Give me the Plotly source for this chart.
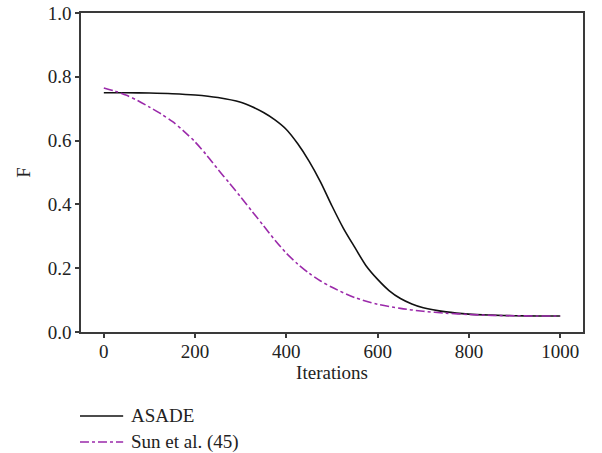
import plotly.graph_objects as go

asade_x = [0, 50, 100, 150, 200, 250, 300, 325, 350, 375, 400, 425, 450, 475, 500, 525, 550, 575, 600,
           625, 650, 675, 700, 750, 800, 850, 900, 950, 1000]
asade_y = [0.750, 0.750, 0.749, 0.747, 0.743, 0.735, 0.720, 0.706, 0.688, 0.665, 0.635, 0.590, 0.535, 0.470,
           0.395, 0.325, 0.265, 0.207, 0.165, 0.130, 0.105, 0.088, 0.076, 0.063, 0.056, 0.053, 0.051, 0.050, 0.050]

sun_x = [0, 25, 50, 75, 100, 125, 150, 175, 200, 225, 250, 275, 300, 325, 350, 375, 400, 425, 450, 475,
         500, 550, 600, 650, 700, 750, 800, 850, 900, 950, 1000]
sun_y = [0.765, 0.755, 0.742, 0.725, 0.705, 0.684, 0.660, 0.630, 0.596, 0.555, 0.510, 0.467, 0.423, 0.378,
         0.333, 0.288, 0.247, 0.213, 0.184, 0.160, 0.140, 0.108, 0.087, 0.074, 0.065, 0.059, 0.055, 0.052,
         0.051, 0.050, 0.050]

series_names = ["ASADE", "Sun et al. (45)"]
series_colors = ["#111111", "#9b2aaa"]
series_dash = ["solid", "dashdot"]

x_ticks = [0, 200, 400, 600, 800, 1000]
y_ticks = [0.0, 0.2, 0.4, 0.6, 0.8, 1.0]

font_family = "Liberation Serif, DejaVu Serif, serif"
fsize = 19

fig = go.Figure()
for xs, ys, name, color, dash in zip([asade_x, sun_x], [asade_y, sun_y], series_names, series_colors, series_dash):
    fig.add_trace(go.Scatter(x=xs, y=ys, mode="lines", name=name, showlegend=False,
                             line=dict(color=color, width=1.6, dash=dash, shape="spline", smoothing=0.8)))

axis_common = dict(
    showline=True, linecolor="#3a3a3a", linewidth=1.5, mirror=True,
    ticks="outside", ticklen=4, tickcolor="#3a3a3a", tickwidth=1.5,
    showgrid=False, zeroline=False, automargin=False,
    tickfont=dict(family=font_family, size=fsize, color="#222222"),
)

# manual legend below the plot (paper coordinates)
legend_y = [-0.263, -0.345]
shapes = []
annotations = []
for name, color, dash, ly in zip(series_names, series_colors, series_dash, legend_y):
    shapes.append(dict(type="line", xref="paper", yref="paper", x0=-0.002, x1=0.084, y0=ly, y1=ly,
                       line=dict(color=color, width=1.5, dash=dash)))
    annotations.append(dict(xref="paper", yref="paper", x=0.096, y=ly, xanchor="left", yanchor="middle",
                            text=name, showarrow=False,
                            font=dict(family=font_family, size=fsize, color="#222222")))

fig.update_layout(
    width=602, height=453,
    margin=dict(l=81, r=19, t=13, b=121, autoexpand=False),
    plot_bgcolor="white", paper_bgcolor="white",
    font=dict(family=font_family, size=fsize, color="#222222"),
    xaxis=dict(range=[-50, 1050], tickvals=x_ticks, ticktext=[str(v) for v in x_ticks],
               ticklabelstandoff=-3,
               title=dict(text="Iterations", font=dict(family=font_family, size=fsize), standoff=0),
               **axis_common),
    yaxis=dict(range=[0, 1.0], tickvals=y_ticks, ticktext=[f"{v:.1f}" for v in y_ticks],
               title=dict(text="F", font=dict(family=font_family, size=fsize), standoff=12),
               **axis_common),
    shapes=shapes,
    annotations=annotations,
    showlegend=False,
)

fig.write_html("out.html", config={"displayModeBar": False},
               post_script="document.body.style.margin='0px';document.body.style.overflow='hidden';")
